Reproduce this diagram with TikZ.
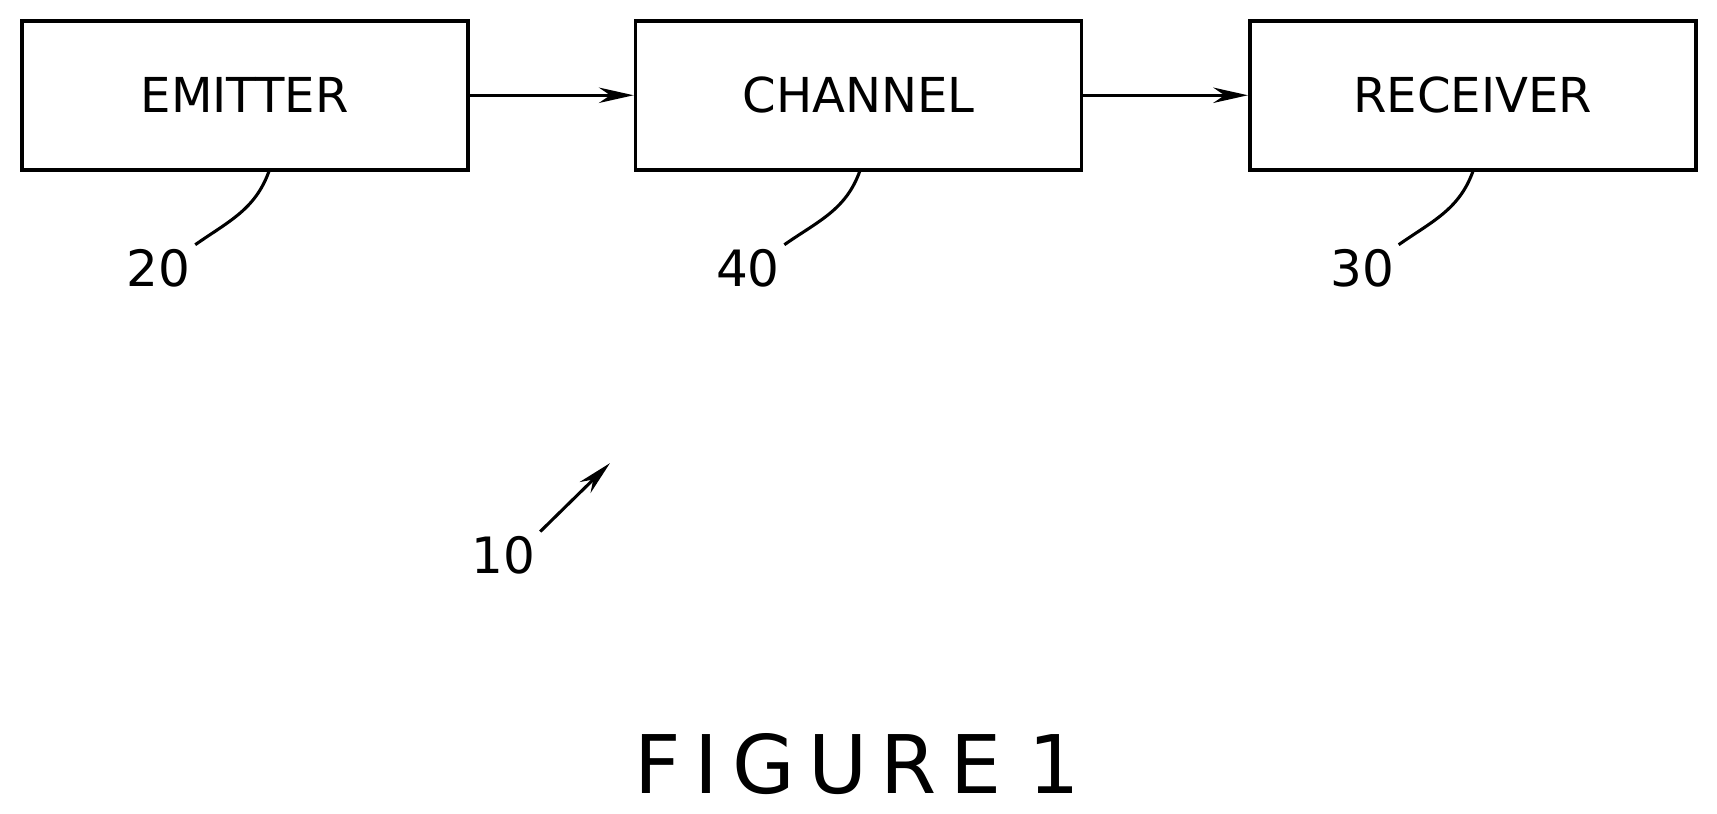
\documentclass[tikz,border=0pt]{standalone}
\usepackage{fontspec}
\setmainfont{DejaVu Sans}
\usetikzlibrary{arrows.meta, positioning}

\begin{document}
\begin{tikzpicture}[x=0.01cm,y=-0.01cm,>={Stealth[length=9pt,width=4pt]}]
  \tikzstyle{block}=[draw,line width=1pt,minimum width=4.07cm,minimum height=1.36cm,font=\fontsize{12.5}{14}\selectfont]
  \tikzstyle{ref}=[font=\fontsize{13}{15}\selectfont,inner sep=1pt]
  \tikzstyle{leader}=[line width=0.8pt,out=-110,in=35]
  \useasboundingbox (0,0) rectangle (1568,743);

  \node[block] (emitter)  at (223.5,87)  {EMITTER};
  \node[block] (channel)  at (784,87)    {CHANNEL};
  \node[block] (receiver) at (1345,87)   {RECEIVER};

  \draw[->,line width=0.8pt] (emitter) -- (channel);
  \draw[->,line width=0.8pt] (channel) -- (receiver);

  \node[ref] (n20) at (145,245) {20};
  \node[ref] (n40) at (683,245) {40};
  \node[ref] (n30) at (1244,245) {30};
  \node[ref] (n10) at (460,507) {10};

  \draw[leader] (emitter.south) ++(22,0) to (n20.north east);
  \draw[leader] (channel.south) ++(1,0) to (n40.north east);
  \draw[leader] (receiver.south) to (n30.north east);

  \coordinate (tip10) at (557,423);
  \draw[->,line width=0.8pt] (n10.north east) -- (tip10);

  \node[font=\fontsize{21}{24}\selectfont] (fig) at (783,698) {F\,I\,G\,U\,R\,E\,\,1};
\end{tikzpicture}
\end{document}
